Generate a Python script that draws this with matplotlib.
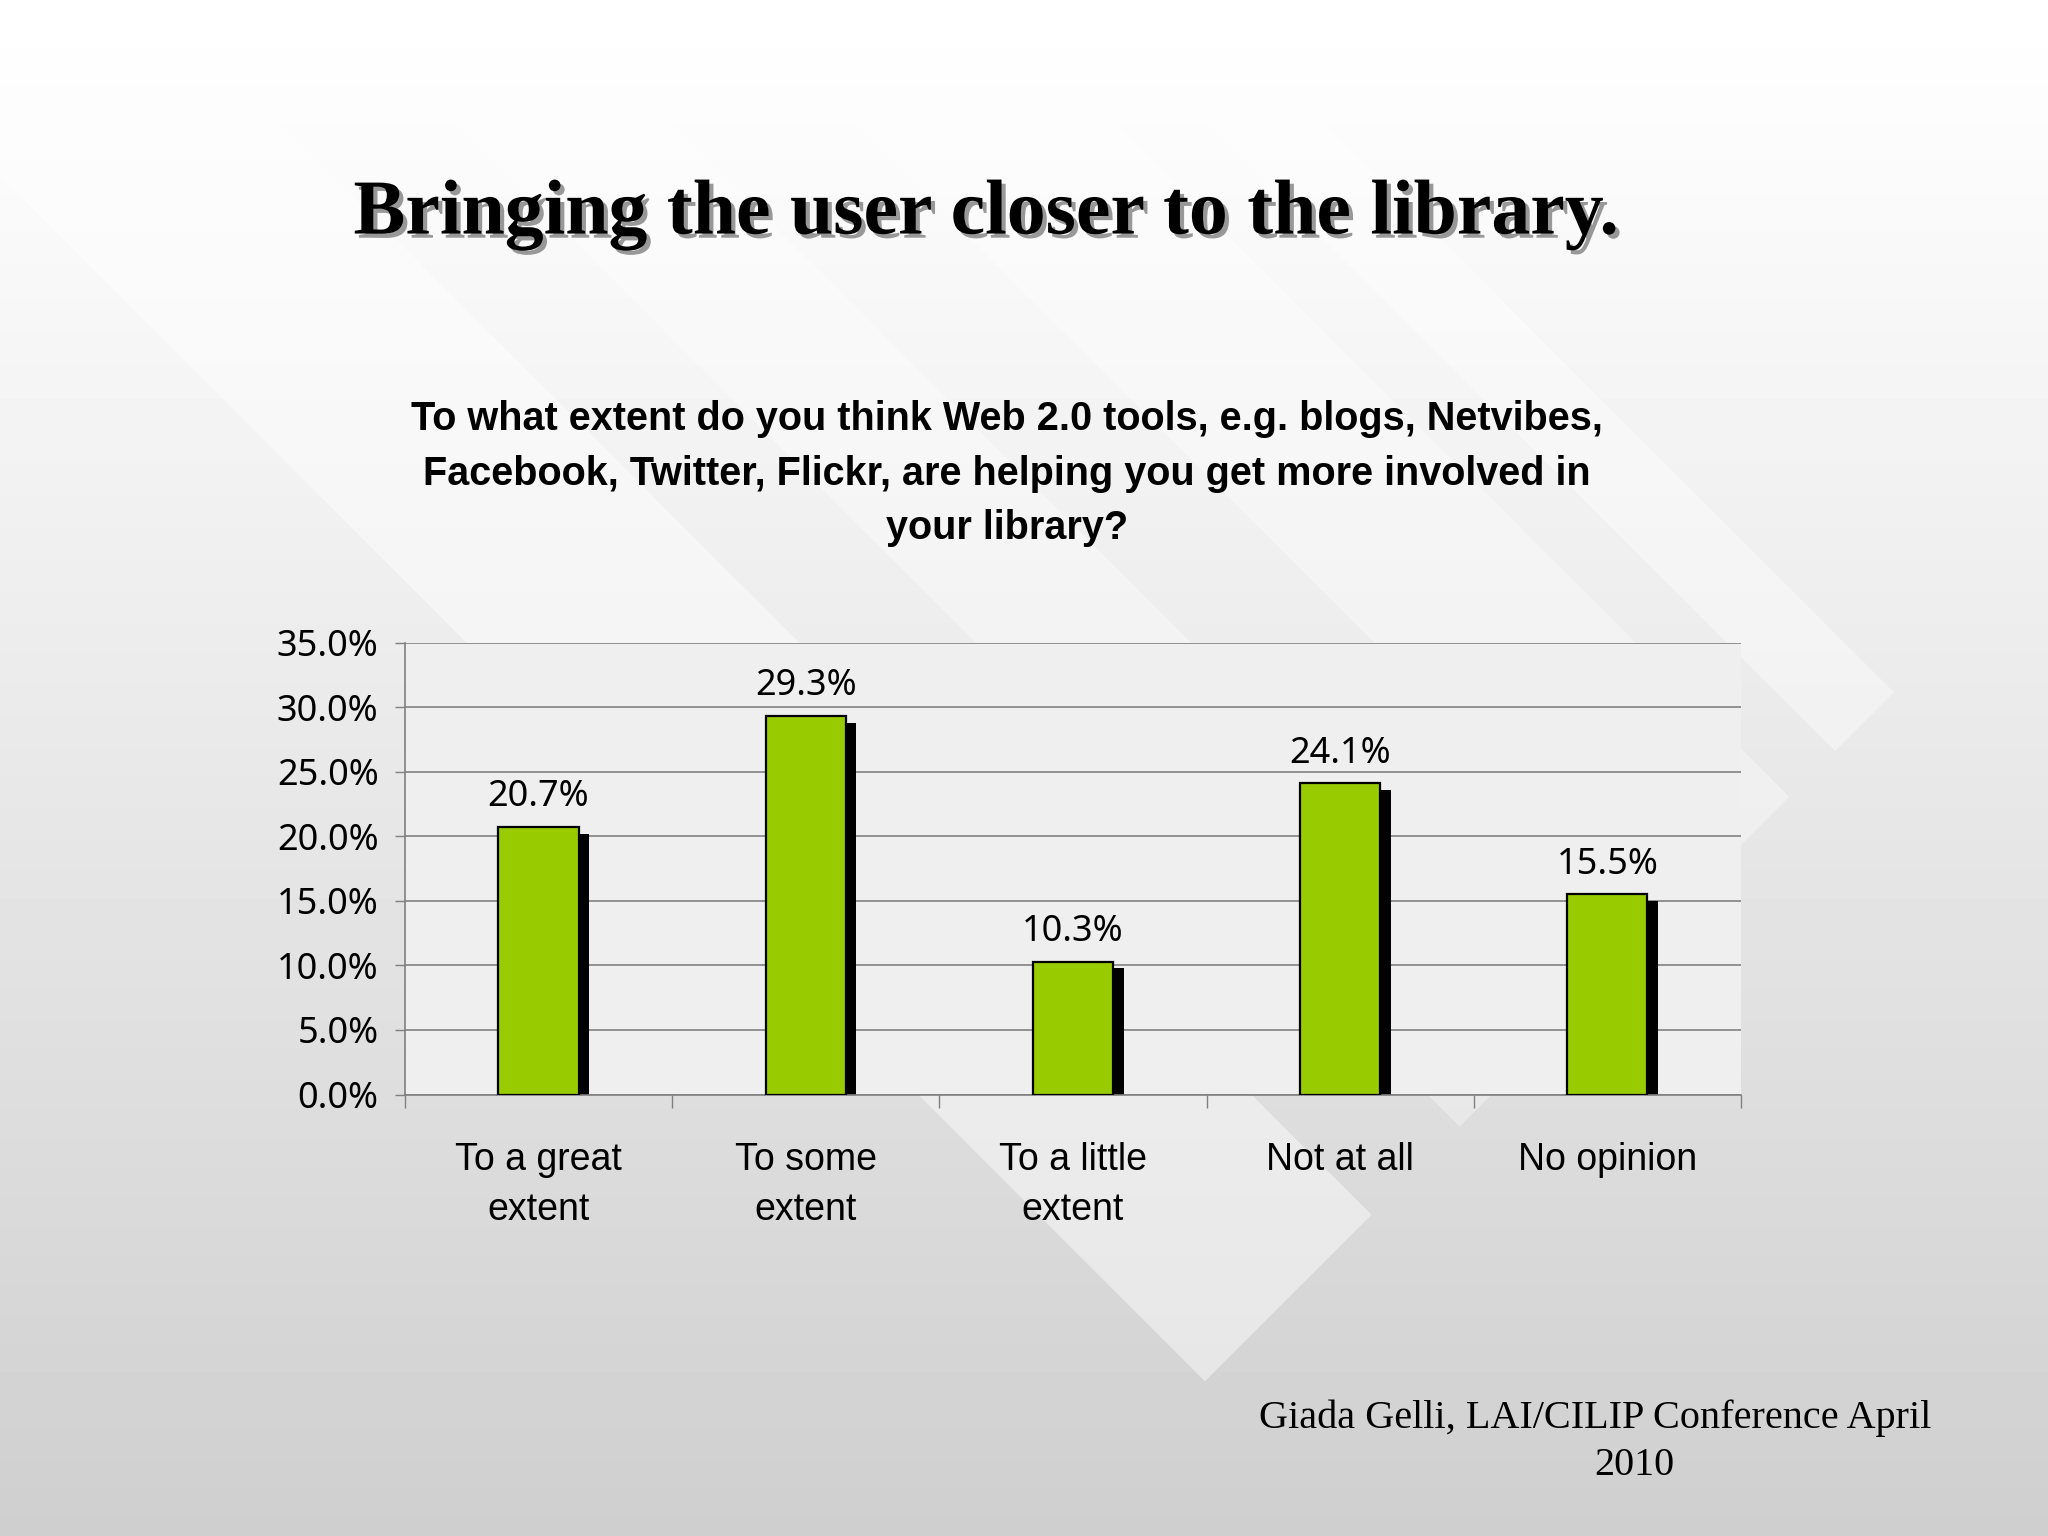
import numpy as np
import matplotlib
matplotlib.use('Agg')
import matplotlib.pyplot as plt
from matplotlib.patches import Polygon
from matplotlib.ticker import FuncFormatter, FixedLocator
import matplotlib.patheffects as pe

# data
categories = ['To a great\nextent', 'To some\nextent', 'To a little\nextent', 'Not at all', 'No opinion']
values = [20.7, 29.3, 10.3, 24.1, 15.5]
labels = ['20.7%', '29.3%', '10.3%', '24.1%', '15.5%']
yticks = [0, 5, 10, 15, 20, 25, 30, 35]

title = 'Bringing the user closer to the library.'
question = ['To what extent do you think Web 2.0 tools, e.g. blogs, Netvibes,',
            'Facebook, Twitter, Flickr, are helping you get more involved in',
            'your library?']
footer = ['Giada Gelli, LAI/CILIP Conference April', '2010']

fig = plt.figure(figsize=(20.48, 15.36), dpi=100)

# slide background: vertical grey gradient + light diagonal bands
bg = fig.add_axes([0, 0, 1, 1], zorder=-10)
bg.set_xlim(0, 1568)
bg.set_ylim(1176, 0)
bg.axis('off')
t = np.linspace(0, 1, 400).reshape(-1, 1)
grad = 1.0 - 0.19 * t ** 1.1
bg.imshow(np.repeat(grad, 2, axis=1), cmap='gray', vmin=0, vmax=1,
          extent=[0, 1568, 1176, 0], aspect='auto', interpolation='bicubic')

S = 1980
for c1, c2, a in [(-120, 135, 0.45), (-420, -255, 0.35), (-760, -560, 0.35), (-920, -830, 0.4)]:
    xa, ya = (S - c1) / 2, (S + c1) / 2
    xb, yb = (S - c2) / 2, (S + c2) / 2
    pts = [(xa - 2000, ya - 2000), (xa, ya), (xb, yb), (xb - 2000, yb - 2000)]
    bg.add_patch(Polygon(pts, closed=True, facecolor='white', edgecolor='none', alpha=a))

# title and question
fig.text(0.4815, 0.86, title, ha='center', va='center', fontsize=56,
         family='Liberation Serif', fontweight='bold', color='black',
         path_effects=[pe.withSimplePatchShadow(offset=(3, -3), shadow_rgbFace='#808080', alpha=0.8)])

for i, line in enumerate(question):
    fig.text(0.4915, 0.727 - i * 0.0355, line, ha='center', va='center', fontsize=28.5,
             family='Liberation Sans', fontweight='bold')

fig.text(0.779, 0.0765, footer[0], ha='center', va='center', fontsize=29, family='Liberation Serif')
fig.text(0.798, 0.0459, footer[1], ha='center', va='center', fontsize=29, family='Liberation Serif')

# chart
ax = fig.add_axes([0.1977, 0.2874, 0.6524, 0.2942])
ax.set_facecolor('#efefef')
x = np.arange(len(values))
w = 0.30
vals = np.array(values)
ax.bar(x + 0.04, vals - 0.5, width=w, color='black', zorder=2)
ax.bar(x, vals, width=w, color='#99cc00', edgecolor='black', linewidth=1.6, zorder=3)
for xi, v, lab in zip(x, values, labels):
    ax.annotate(lab, (xi, v), xytext=(0, 15), textcoords='offset points', ha='center',
                va='baseline', fontsize=26, family='Noto Sans')

ax.set_xlim(-0.5, 4.5)
ax.set_ylim(0, 35)
ax.set_yticks(yticks)
ax.yaxis.set_major_formatter(FuncFormatter(lambda v, p: f'{v:.1f}%'))
ax.yaxis.grid(True, color='#8a8a8a', linewidth=1.3)
ax.set_axisbelow(True)
ax.tick_params(axis='y', direction='out', length=7, width=1, color='#808080', pad=12,
               labelsize=26)
for lb in ax.get_yticklabels():
    lb.set_family('Noto Sans')

ax.set_xticks(x)
ax.set_xticklabels(categories, fontsize=27, family='Liberation Sans', linespacing=1.5)
ax.xaxis.set_minor_locator(FixedLocator(np.arange(-0.5, 5, 1)))
ax.tick_params(axis='x', which='major', length=0, pad=34)
ax.tick_params(axis='x', which='minor', direction='out', length=9, width=1, color='#808080')

for s in ['top', 'right']:
    ax.spines[s].set_visible(False)
for s in ['left', 'bottom']:
    ax.spines[s].set_color('#808080')
    ax.spines[s].set_linewidth(1.2)

fig.savefig('out.png', dpi=100)
